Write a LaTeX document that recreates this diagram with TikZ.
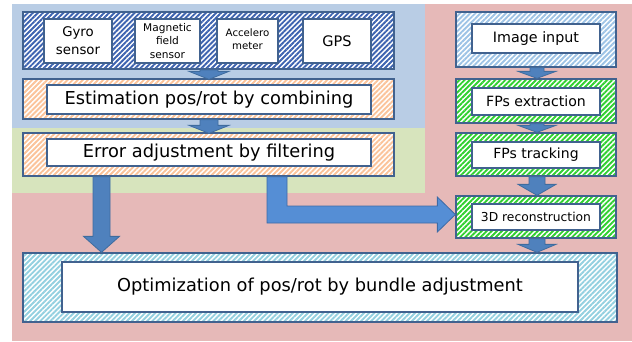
\documentclass[tikz,border=0pt]{standalone}
\usepackage{fontspec}
\setmainfont{DejaVu Sans}
\usetikzlibrary{patterns.meta,calc}
\definecolor{bgblue}{HTML}{B9CDE5}
\definecolor{bggreen}{HTML}{D7E4BD}
\definecolor{bgpink}{HTML}{E6B9B8}
\definecolor{edge}{HTML}{41628F}
\definecolor{stdark}{HTML}{3D63B0}
\definecolor{stlight}{HTML}{9DC3E6}
\definecolor{storange}{HTML}{FBC39A}
\definecolor{stgreen}{HTML}{30D030}
\definecolor{stcyan}{HTML}{93D0E0}
\definecolor{arfill}{HTML}{4F81BD}
\definecolor{arline}{HTML}{3F6C9E}
\definecolor{elbfill}{HTML}{558ED5}
\definecolor{elbline}{HTML}{3D6AA5}
\tikzset{
  outerbox/.style={draw=edge, line width=1.3pt, inner sep=0pt, preaction={fill=white},
    pattern={Lines[angle=45,distance=3.6pt,line width=1.9pt]}, pattern color=#1},
  innerbox/.style={draw=edge, line width=1.1pt, fill=white, inner sep=0pt, align=center},
  blockarrow/.style={fill=arfill, draw=arline, line width=0.8pt, line join=miter},
}
% vertical block arrow: from, to, shaft half, head half, head length
\newcommand\vblockarrow[5]{%
  \path[blockarrow] let \p1=(#1), \p2=(#2) in
    (\x1-#3,\y1) -- (\x1+#3,\y1) -- (\x1+#3,\y2+#5) -- (\x1+#4,\y2+#5) -- (\x1,\y2)
    -- (\x1-#4,\y2+#5) -- (\x1-#3,\y2+#5) -- cycle;}
\begin{document}
\begin{tikzpicture}[x=1pt,y=-1pt]
\useasboundingbox (0,0) rectangle (632,341);
% backgrounds
\fill[bgpink] (425,4) rectangle (632,341);
\fill[bgpink] (12,193) rectangle (425,341);
\fill[bgblue] (12,4) rectangle (425,128);
\fill[bggreen] (12,128) rectangle (425,193);
% left column
\node[outerbox=stdark, minimum width=371pt, minimum height=57pt] (sens) at (208.5,40.5) {};
\node[innerbox, minimum width=68pt, minimum height=44pt, font=\fontsize{13.3}{18}\selectfont] (gyro) at (78,41) {Gyro\\sensor};
\node[innerbox, minimum width=65pt, minimum height=44pt, font=\fontsize{10.6}{13.5}\selectfont] (mag) at (167.5,41) {Magnetic\\field\\sensor};
\node[innerbox, minimum width=61pt, minimum height=44pt, font=\fontsize{10.2}{12.5}\selectfont] (acc) at (247.5,41) {Accelero\\meter\rule[-4pt]{0pt}{4pt}};
\node[innerbox, minimum width=68pt, minimum height=44pt, font=\fontsize{14.5}{17}\selectfont] (gps) at (337,41) {GPS};
\node[outerbox=storange, minimum width=371pt, minimum height=40pt] (est) at (208.5,99) {};
\node[innerbox, minimum width=324pt, minimum height=29pt, font=\fontsize{17.8}{21}\selectfont] (estt) at (209,99.5) {Estimation pos/rot by combining};
\node[outerbox=storange, minimum width=371pt, minimum height=43pt] (err) at (208.5,154.5) {};
\node[innerbox, minimum width=324pt, minimum height=27pt, font=\fontsize{17.8}{21}\selectfont] (errt) at (209,152.5) {Error adjustment by filtering};
% right column
\node[outerbox=stlight, minimum width=160pt, minimum height=55pt] (img) at (536,39.5) {};
\node[innerbox, minimum width=128pt, minimum height=29pt, font=\fontsize{14.3}{17}\selectfont] (imgt) at (536,38.5) {Image input};
\node[outerbox=stgreen, minimum width=160pt, minimum height=44pt] (ext) at (536,101) {};
\node[innerbox, minimum width=128pt, minimum height=27pt, font=\fontsize{14.1}{17}\selectfont] (extt) at (536,101.5) {FPs extraction};
\node[outerbox=stgreen, minimum width=160pt, minimum height=43pt] (trk) at (536,154.5) {};
\node[innerbox, minimum width=128pt, minimum height=26pt, font=\fontsize{14}{17}\selectfont] (trkt) at (536,155) {FPs tracking};
\node[outerbox=stgreen, minimum width=160pt, minimum height=42pt] (rec) at (536,217) {};
\node[innerbox, minimum width=128pt, minimum height=26pt, font=\fontsize{12.3}{15}\selectfont] (rect) at (536,217) {3D reconstruction};
% bottom
\node[outerbox=stcyan, minimum width=594pt, minimum height=69pt] (opt) at (320,287.5) {};
\node[innerbox, minimum width=516pt, minimum height=50pt, font=\fontsize{17.8}{21}\selectfont] (optt) at (320,287) {Optimization of pos/rot by bundle adjustment};
% arrows
\vblockarrow{$(sens.south)+(0.5,0)$}{$(est.north)+(0.5,1)$}{9}{20}{8}
\vblockarrow{$(est.south)+(0.5,0)$}{$(err.north)+(0.5,1)$}{9}{20}{8}
\vblockarrow{$(err.south)+(-107,0)$}{$(opt.north)+(-218.5,0)$}{8.5}{18}{16}
\vblockarrow{$(img.south)+(1,0)$}{$(ext.north)+(1,0)$}{7}{19}{7}
\vblockarrow{$(ext.south)+(1,0)$}{$(trk.north)+(1,0)$}{7}{19}{7}
\vblockarrow{$(trk.south)+(1,0)$}{$(rec.north)+(1,0)$}{8}{19}{11}
\vblockarrow{$(rec.south)+(1,0)$}{$(opt.north -| rec.south)+(1,0)$}{8}{19}{8}
% elbow arrow
\path[fill=elbfill, draw=elbline, line width=0.8pt, line join=miter]
  let \p1=($(err.south)+(68.5,0)$), \p2=($(rec.west)+(0,-2.5)$) in
  (\x1-10,\y1) -- (\x1+10,\y1) -- (\x1+10,\y2+8.5) -- (\x2-18,\y2+8.5) -- (\x2-18,\y2+17.5)
  -- (\x2,\y2) -- (\x2-18,\y2-17.5) -- (\x2-18,\y2-8.5) -- (\x1-10,\y2-8.5) -- cycle;
\end{tikzpicture}
\end{document}
